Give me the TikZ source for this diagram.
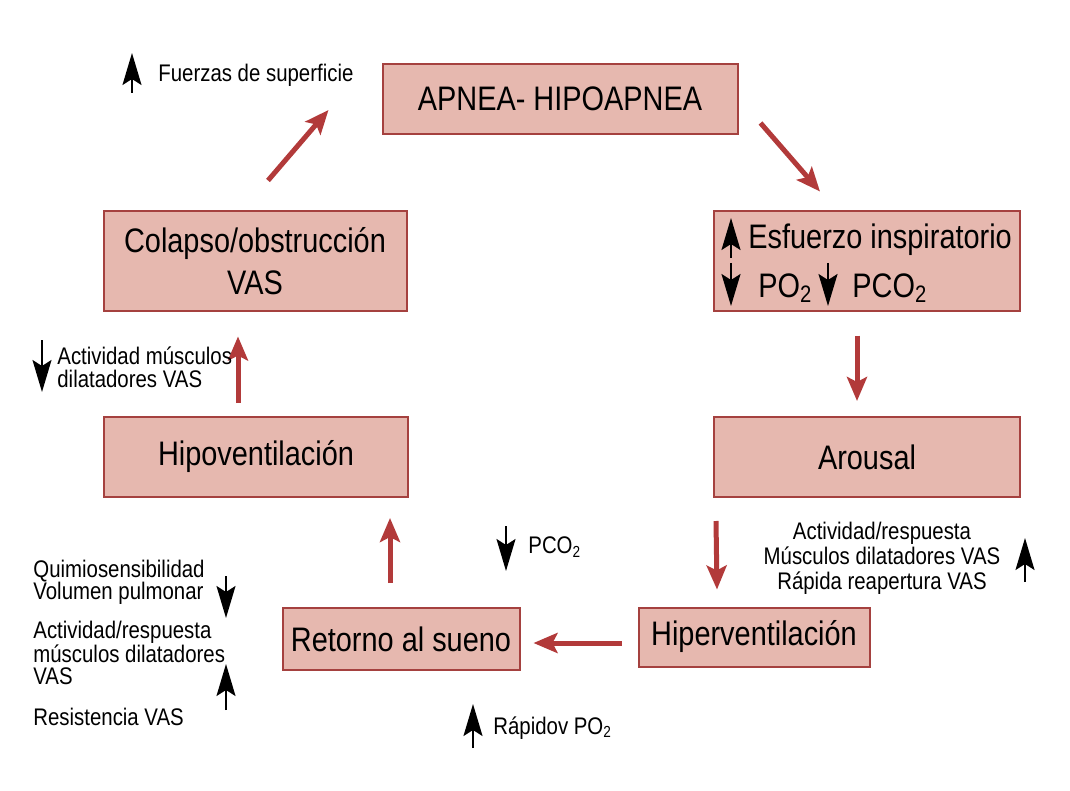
\documentclass[tikz,border=0pt]{standalone}
\usepackage{fontspec}
\setmainfont{Liberation Sans}[FakeStretch=0.85]
\usetikzlibrary{arrows.meta,positioning}
\definecolor{boxfill}{HTML}{E6B8AF}
\definecolor{boxline}{HTML}{A5413F}
\definecolor{flowred}{HTML}{B23A3A}
\tikzset{
  box/.style={draw=boxline, fill=boxfill, line width=1pt, inner sep=0pt,
    font=\fontsize{17}{21}\selectfont, align=center},
  big/.style={font=\fontsize{17}{21}\selectfont, inner sep=0pt},
  flow/.style={draw=flowred, line width=2.5pt, -{Stealth[length=12pt,width=10pt,inset=2.5pt]}},
  ind/.style={line width=0.9pt, -{Stealth[length=16pt,width=9.5pt,inset=3pt]}},
  note/.style={font=\fontsize{12}{11}\selectfont, inner sep=0pt, align=left},
}
\begin{document}
\begin{tikzpicture}[x=0.5pt, y=-0.5pt]
\useasboundingbox (0,0) rectangle (1070,791);

\node[box, minimum width=177.5pt, minimum height=35pt]   (apnea)    at (560,99)  {APNEA- HIPOAPNEA};
\node[box, minimum width=151.5pt, minimum height=49.5pt] (colapso)  at (255,261) {Colapso/obstrucción\\VAS};
\node[box, minimum width=153pt,   minimum height=49.5pt] (esfuerzo) at (867,261) {};
\node[box, minimum width=152pt,   minimum height=40pt]   (hipo)     at (256,457) {Hipoventilación};
\node[box, minimum width=153pt,   minimum height=40pt]   (arousal)  at (867,457) {Arousal};
\node[box, minimum width=118.5pt, minimum height=31pt]   (retorno)  at (401,639) {Retorno al sueno};
\node[box, minimum width=115.5pt, minimum height=29.5pt] (hiper)    at (754,637) {Hiperventilación};

\node[big, anchor=west] (esftxt) at (748,240) {Esfuerzo inspiratorio};
\node[big, anchor=west] (potxt)  at (758,288) {PO\textsubscript{2}};
\node[big, anchor=west] (pcotxt) at (852,288) {PCO\textsubscript{2}};
\draw[ind] (731,258) -- ++(0,-40);
\draw[ind] (731,263) -- ++(0,43);
\draw[ind] (828,263) -- ++(0,43);

\draw[flow] ([shift={(22,-12)}]apnea.south east) -- ([shift={(-47,-19)}]esfuerzo.north);
\draw[flow] ([shift={(-10,24)}]esfuerzo.south) -- ([shift={(-10,-15)}]arousal.north);
\draw[flow] ([shift={(3,23)}]arousal.south west) -- ([shift={(-37,-17)}]hiper.north);
\draw[flow] ([shift={(-16,6)}]hiper.west) -- ([shift={(13,4)}]retorno.east);
\draw[flow] ([shift={(-11,-24)}]retorno.north) -- ([shift={(134,20)}]hipo.south);
\draw[flow] ([shift={(-18,-13)}]hipo.north) -- ([shift={(-17,25)}]colapso.south);
\draw[flow] ([shift={(13,-30)}]colapso.north) -- ([shift={(-53,11)}]apnea.west);

\node[note, anchor=west] (fuerzas) at (158,75) {Fuerzas de superficie};
\draw[ind] (132,93) -- ++(0,-40);

\node[note, anchor=west, font=\fontsize{12}{11.5}\selectfont] (actmus) at (57,367) {Actividad músculos\\dilatadores VAS};
\draw[ind] (42,340) -- ++(0,52);

\node[note, anchor=west] (quimio) at (33,582) {Quimiosensibilidad\\Volumen pulmonar};
\draw[ind] (226,576) -- ++(0,42);
\node[note, anchor=west] (actresp) at (33,653) {Actividad/respuesta\\músculos dilatadores\\VAS};
\draw[ind] (226,710) -- ++(0,-46);
\node[note, anchor=west] (resist) at (33,717) {Resistencia VAS};

\node[note, anchor=west] (pco) at (528,547) {PCO\textsubscript{2}};
\draw[ind] (506,526) -- ++(0,45);

\node[note, anchor=west] (rapido) at (493,728) {Rápidov PO\textsubscript{2}};
\draw[ind] (473,748) -- ++(0,-44);

\node[note, align=center, font=\fontsize{12}{12.5}\selectfont] (actright) at (882,558) {Actividad/respuesta\\Músculos dilatadores VAS\\Rápida reapertura VAS};
\draw[ind] (1025,582) -- ++(0,-44);
\end{tikzpicture}
\end{document}
